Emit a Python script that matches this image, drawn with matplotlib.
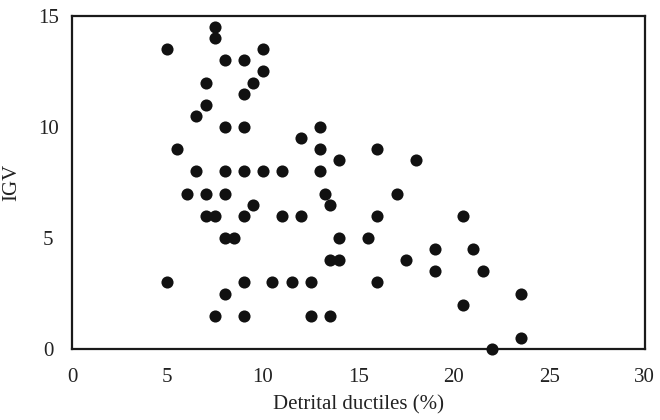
import numpy as np
import matplotlib
matplotlib.use("Agg")
import matplotlib.pyplot as plt

# detrital ductiles (%) vs IGV
ductiles = [5, 7.5, 7.5, 8, 9, 10, 10, 9.5, 7, 9, 7, 6.5, 8, 9, 5.5,
            6.5, 8, 9, 10, 11, 12, 13, 13, 14, 13, 16, 18,
            6, 7, 8, 13.25, 13.5, 17, 9.5,
            7, 7.5, 9, 11, 12, 16, 20.5,
            8, 8.5, 14, 15.5, 19, 21,
            13.5, 14, 17.5, 19, 21.5,
            5, 9, 10.5, 11.5, 12.5, 16,
            8, 23.5, 20.5,
            7.5, 9, 12.5, 13.5, 23.5, 22]
igv = [13.5, 14.5, 14, 13, 13, 13.5, 12.5, 12, 12, 11.5, 11, 10.5, 10, 10, 9,
       8, 8, 8, 8, 8, 9.5, 10, 9, 8.5, 8, 9, 8.5,
       7, 7, 7, 7, 6.5, 7, 6.5,
       6, 6, 6, 6, 6, 6, 6,
       5, 5, 5, 5, 4.5, 4.5,
       4, 4, 4, 3.5, 3.5,
       3, 3, 3, 3, 3, 3,
       2.5, 2.5, 2,
       1.5, 1.5, 1.5, 1.5, 0.5, 0]

x_ticks = [0, 5, 10, 15, 20, 25, 30]
y_ticks = [0, 5, 10, 15]

plt.rcParams['font.family'] = ['Liberation Serif', 'DejaVu Serif']

fig = plt.figure(figsize=(6.6, 4.2), dpi=100)
ax = fig.add_axes([0.109, 0.169, 0.868, 0.793])

ax.scatter(ductiles, igv, s=76, color='#111111', zorder=3, clip_on=False, linewidths=0)

ax.set_xlim(0, 30)
ax.set_ylim(0, 15)
ax.set_xticks(x_ticks)
ax.set_yticks(y_ticks)
ax.tick_params(axis='both', length=0, labelsize=15, colors='#222222')
ax.tick_params(axis='x', pad=13.5)
ax.tick_params(axis='y', pad=17)
for lab in ax.get_yticklabels():
    lab.set_horizontalalignment('center')

for sp in ax.spines.values():
    sp.set_linewidth(1.6)
    sp.set_color('#1a1a1a')

ax.set_xlabel("Detrital ductiles (%)", fontsize=15, color='#222222', labelpad=6)
ax.set_ylabel("IGV", fontsize=15, color='#222222', labelpad=12)

fig.savefig("out.png", dpi=100)
